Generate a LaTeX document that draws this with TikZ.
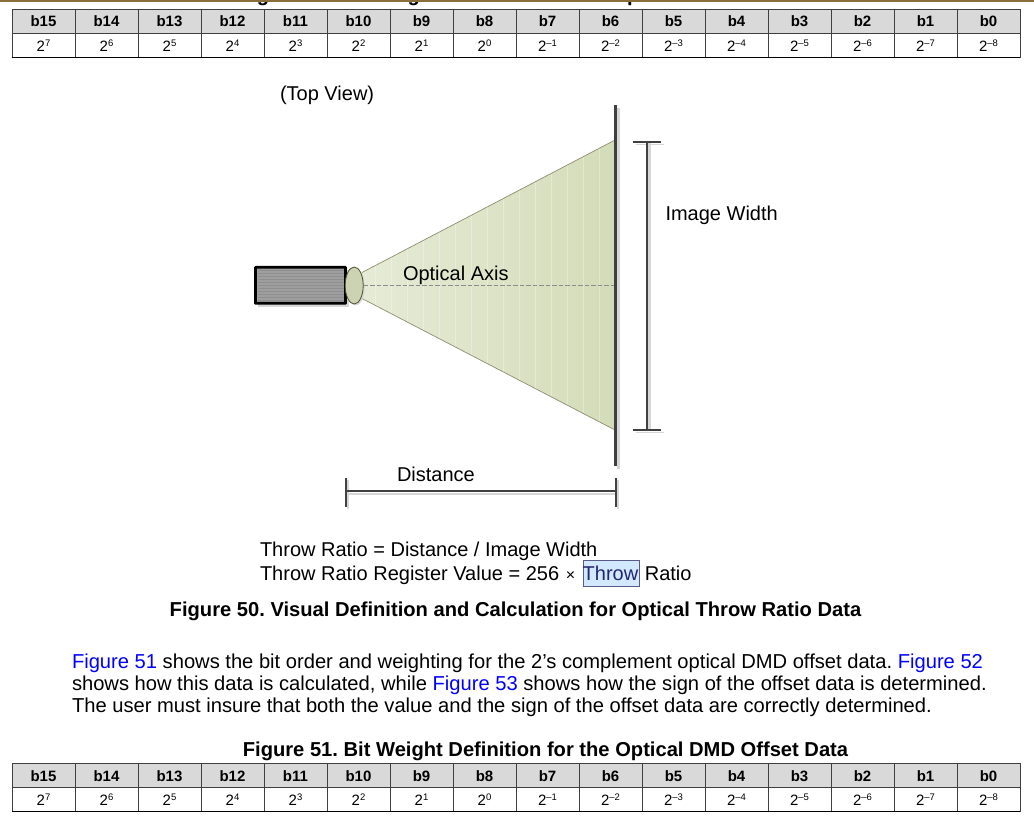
\documentclass[tikz,border=0pt]{standalone}
\usepackage{fontspec}
\setmainfont{Liberation Sans}
\usetikzlibrary{shapes.geometric,calc}
\frenchspacing
\definecolor{headgray}{HTML}{D9D9D9}
\definecolor{shadowgray}{HTML}{D6D6D6}
\definecolor{linkblue}{HTML}{0000FF}
\definecolor{bandbrown}{HTML}{8A6F3C}
\definecolor{beamL}{HTML}{E6EBD6}
\definecolor{beamR}{HTML}{D3DCB8}
\definecolor{dimgray}{HTML}{404040}
\newcommand{\fs}[1]{\fontsize{#1}{#1}\selectfont}
\tikzset{
  cellbase/.style={draw=dimgray,line width=0.7pt,minimum width=63pt,inner sep=0pt,outer sep=0pt,anchor=north west},
  headcell/.style={cellbase,fill=headgray,minimum height=24pt,font=\fs{15}\bfseries,text height=11pt,text depth=0pt},
  valcell/.style={cellbase,fill=white,minimum height=24pt,font=\fs{15},text height=12pt,text depth=0pt},
  txt/.style={anchor=base west,inner sep=0pt,outer sep=0pt,font=\fs{20}},
  captxt/.style={anchor=base,inner sep=0pt,outer sep=0pt,font=\fs{20.15}\bfseries},
  partxt/.style={txt,font=\fs{20.15}},
  dimline/.style={draw=dimgray,line width=2.4pt},
  dimcap/.style={draw=dimgray,line width=2pt},
  shadowline/.style={draw=shadowgray,line width=2.5pt},
}
\newcommand{\bittable}[2]{%
  \foreach \i in {0,...,15}{
    \pgfmathtruncatemacro{\bitno}{15-\i}
    \pgfmathtruncatemacro{\ex}{7-\i}
    \pgfmathtruncatemacro{\ax}{abs(\ex)}
    \node[headcell] (#1h\i) at ({12+63*\i},#2) {b\bitno};
    \node[valcell] (#1v\i) at ({12+63*\i},#2+24) {2\raisebox{5pt}{\fs{9.5}\ifnum\ex<0 –\fi\ax}};
  }
  \draw[black,line width=1.2pt] (#1v0.south west) -- (#1v15.south east);
}
\begin{document}
\begin{tikzpicture}[x=1pt,y=-1pt]
\useasboundingbox (0,0) rectangle (1034,820);
\fill[white] (0,0) rectangle (1034,820);
% clipped page-top caption and band
\begin{scope}
\clip (0,0) rectangle (1034,820);
\node[captxt] (topcap) at (545,1.5) {Figure 49. Bit Weight Definition for the Optical Throw Ratio Data};
\end{scope}
\fill[bandbrown] (0,0) rectangle (1034,1.8);
\bittable{a}{9.3}
% top view
\node[txt] (topview) at (280,100) {(Top View)};
% beam
\coordinate (bl1) at (362,272.5);
\coordinate (bl2) at (362,298.5);
\coordinate (br1) at (615,140);
\coordinate (br2) at (615,430);
\begin{scope}
\clip (bl1) -- (br1) -- (br2) -- (bl2) -- cycle;
\shade[left color=beamL,right color=beamR] (358,138) rectangle (616,432);
\foreach \x in {375,391,...,615}{
  \draw[white,opacity=0.3,line width=0.8pt] (\x,138) -- (\x,432);
}
\end{scope}
\draw[gray!80!olive,line width=0.7pt] (bl1) -- (br1);
\draw[gray!80!olive,line width=0.7pt] (bl2) -- (br2);
% camera
\fill[shadowgray] (258,270) rectangle (348.5,306.5);
\node[draw=black,line width=2.8pt,fill=black!38,minimum width=90pt,minimum height=36pt,inner sep=0pt,outer sep=0pt,anchor=north west,rounded corners=0.5pt] (camera) at (255.5,267.3) {};
\foreach \y in {270,273,...,301}{
  \draw[black!44,line width=0.8pt] (257.5,\y) -- (343.5,\y);
}
% lens
\node[ellipse,fill=shadowgray,minimum width=18pt,minimum height=37pt,inner sep=0pt] at (355.7,287) {};
\node[ellipse,draw=black!55!olive,line width=0.8pt,fill=beamR!90!gray,minimum width=18pt,minimum height=37pt,inner sep=0pt] (lens) at (354.2,285.5) {};
% axis
\coordinate (axisend) at (615,285.5);
\draw[black!45,line width=0.7pt,dash pattern=on 4.5pt off 2pt] (lens.east) -- (axisend);
\node[txt] (optaxis) at (403,280) {Optical Axis};
% screen
\coordinate (scrtop) at (615.5,105);
\coordinate (scrbot) at (615.5,466);
\draw[shadowgray,line width=2.8pt] ($(scrtop)+(3,3)$) -- ($(scrbot)+(3,3)$);
\draw[dimgray,line width=3pt] (scrtop) -- (scrbot);
% image width dimension
\coordinate (iwtl) at (633,141.5);
\coordinate (iwtr) at (661,141.5);
\coordinate (iwbl) at (633,429.5);
\coordinate (iwbr) at (661,429.5);
\draw[shadowline] ($(iwtl)!0.5!(iwtr)+(2.5,0)$) -- ($(iwbl)!0.5!(iwbr)+(2.5,0)$);
\draw[shadowline,line width=1.8pt] ($(iwtl)+(3,3)$) -- ($(iwtr)+(3,3)$);
\draw[shadowline,line width=1.8pt] ($(iwbl)+(3,3)$) -- ($(iwbr)+(3,3)$);
\draw[dimline] ($(iwtl)!0.5!(iwtr)$) -- ($(iwbl)!0.5!(iwbr)$);
\draw[dimcap] (iwtl) -- (iwtr);
\draw[dimcap] (iwbl) -- (iwbr);
\node[txt] (imgw) at (665.5,220) {Image Width};
% distance dimension
\coordinate (dl) at (345.5,491);
\coordinate (dr) at (615.5,491);
\draw[shadowline,line width=2pt] ($(dl)+(2,3)$) -- ($(dr)+(2,3)$);
\draw[shadowline,line width=1.8pt] ($(dl)+(2.5,-11)$) -- ($(dl)+(2.5,18)$);
\draw[shadowline,line width=1.8pt] ($(dr)+(2.5,-11)$) -- ($(dr)+(2.5,18)$);
\draw[dimline] (dl) -- (dr);
\draw[dimcap] ($(dl)+(0,-13)$) -- ($(dl)+(0,16)$);
\draw[dimcap] ($(dr)+(0,-13)$) -- ($(dr)+(0,16)$);
\node[txt] (dist) at (397,481) {Distance};
% formulas
\node[txt] (f1) at (260,556) {Throw Ratio = Distance / Image Width};
\node[draw=black!35!blue!30!gray,line width=0.8pt,fill=blue!50!cyan!18,anchor=north west,minimum width=56pt,minimum height=26pt,inner sep=0pt] (sel) at (582.5,560) {};
\node[txt] (f2) at (260,580) {Throw Ratio Register Value = 256\hspace{1pt} {\fs{16}×}\hspace{2pt} \textcolor{black!60!blue!70!gray}{Throw}\hspace{1pt} Ratio};
\node[captxt] (cap50) at (515.5,616) {Figure 50. Visual Definition and Calculation for Optical Throw Ratio Data};
% paragraph
\node[partxt] (p1) at (72,668) {\textcolor{linkblue}{Figure 51} shows the bit order and weighting for the 2’s complement optical DMD offset data. \textcolor{linkblue}{Figure 52}};
\node[partxt] (p2) at (72,690) {shows how this data is calculated, while \textcolor{linkblue}{Figure 53} shows how the sign of the offset data is determined.};
\node[partxt] (p3) at (72,712) {The user must insure that both the value and the sign of the offset data are correctly determined.};
\node[captxt] (cap51) at (545.5,756) {Figure 51. Bit Weight Definition for the Optical DMD Offset Data};
\bittable{b}{763.5}
\end{tikzpicture}
\end{document}
